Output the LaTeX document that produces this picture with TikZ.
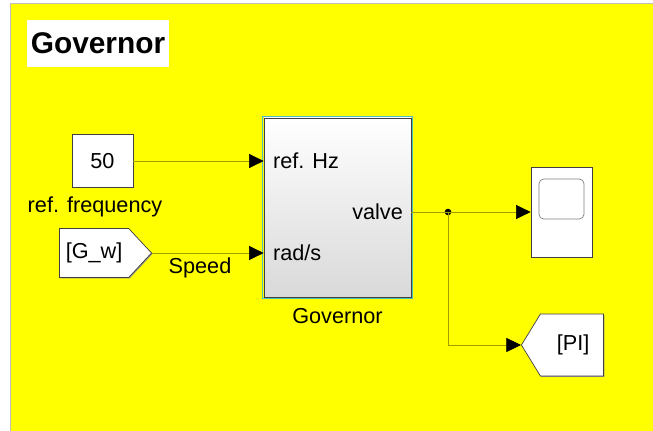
\documentclass[tikz,border=0pt]{standalone}
\usepackage{fontspec}
\setmainfont{Liberation Sans}
\usetikzlibrary{arrows.meta, positioning, calc, shapes.symbols, shadows}

\definecolor{canvas}{RGB}{255,255,0}
\definecolor{wire}{RGB}{160,160,0}
\definecolor{govedge}{RGB}{80,190,190}

\begin{document}
\begin{tikzpicture}[
  x=0.03cm, y=-0.03cm,
  lbl/.style={font=\fontsize{18.5}{22}\selectfont},
  sig/.style={draw=wire, line width=0.6pt, -{Triangle[length=12.5pt, width=12pt, color=black]}},
  block/.style={draw=black!75, fill=white, line width=0.6pt, inner sep=0pt,
    drop shadow={shadow xshift=0.8pt, shadow yshift=-0.8pt, fill=black!45, opacity=1}},
  tagblock/.style={block, shape=signal, lbl}
]
  \useasboundingbox (0,0) rectangle (653,431);

  % canvas
  \fill[white] (0,0) rectangle (653,431);
  \filldraw[fill=canvas, draw=black!25, line width=0.6pt] (10,3) rectangle (653,431);

  % title
  \node (title) [fill=white, minimum width=136*0.03cm, minimum height=47*0.03cm,
    font=\fontsize{25.5}{28}\selectfont\bfseries] at (98,43.5) {Governor};

  % sources
  \node (const) [block, lbl, minimum width=61*0.03cm, minimum height=53*0.03cm] at (102.5,161) {50};
  \node (constlbl) [lbl] at (95,207) {ref. frequency};
  \node (gwfrom) [tagblock, signal to=east, signal from=nowhere, signal pointer angle=94,
    anchor=east, minimum width=92*0.03cm, minimum height=49*0.03cm] at (152,253) {[G\_w]\hspace{8pt}};
  \node (speedlbl) [lbl] at (200,268) {Speed};

  % governor subsystem
  \node (gov) [block, top color=white, bottom color=black!15,
    minimum width=147*0.03cm, minimum height=179*0.03cm] at (337.5,207.5) {};
  \draw[govedge, line width=1.6pt] ([shift={(-1.2,-1.2)}]gov.north west)
    rectangle ([shift={(1.2,1.2)}]gov.south east);
  \node (refhz) [lbl, anchor=west] at (269,161) {ref. Hz};
  \node (rads) [lbl, anchor=west] at (269,253) {rad/s};
  \node (valve) [lbl, anchor=east] at (407,212) {valve};
  \node (govlbl) [lbl] at (337.5,316) {Governor};

  % sinks
  \node (scope) [block, minimum width=61*0.03cm, minimum height=90*0.03cm] at (561.5,212) {};
  \node (screen) [draw=black!50, rounded corners=4pt, line width=0.6pt,
    minimum width=45*0.03cm, minimum height=40*0.03cm] at (561.5,199) {};
  \node (pigoto) [tagblock, signal to=west, signal from=nowhere, signal pointer angle=117,
    anchor=west, minimum width=82*0.03cm, minimum height=62*0.03cm] at (521,345) {\hspace{2pt}[PI]};

  \coordinate (branch) at (448,212);
  \fill (branch) circle (2.8pt);

  % signal lines
  \draw[sig] (const.east) -- (const.east -| gov.west);
  \draw[sig] (gwfrom.east) -- (gwfrom.east -| gov.west);
  \draw[draw=wire, line width=0.6pt] (gov.east |- branch) -- (branch);
  \draw[sig] (branch) -- (scope.west);
  \draw[sig] (branch) |- (pigoto.west);

\end{tikzpicture}
\end{document}
